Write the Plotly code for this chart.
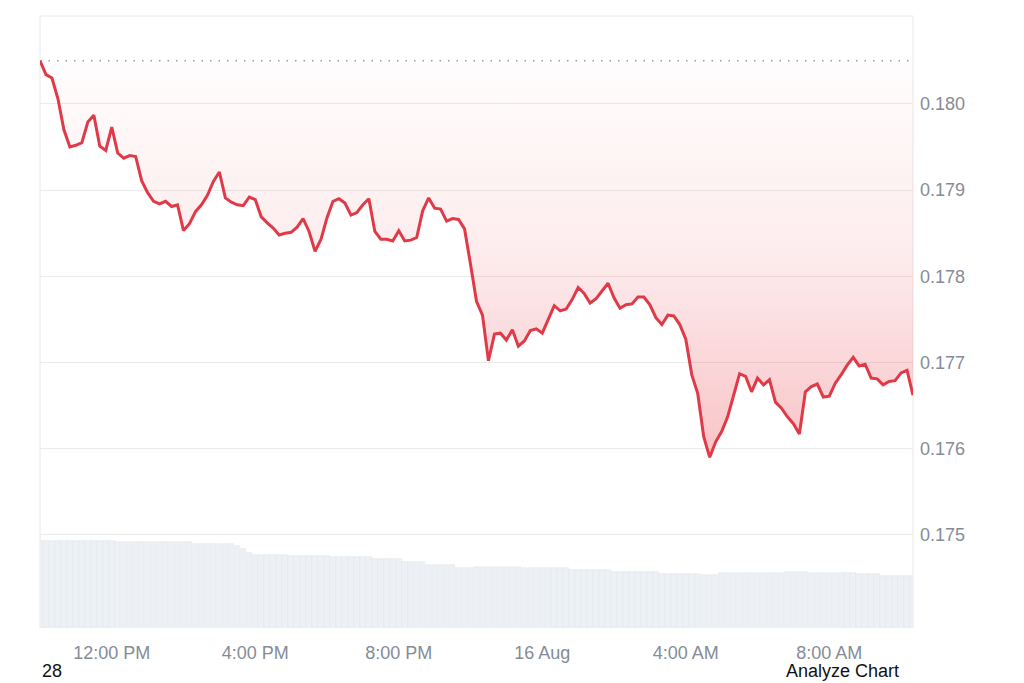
import pandas as pd
import plotly.graph_objects as go

START = "2024-08-15 10:00"
FREQ = "10min"

price = [
    0.18050, 0.18034, 0.18030, 0.18006, 0.17970, 0.17950, 0.17952, 0.17955, 0.17979, 0.17987,
    0.17951, 0.17946, 0.17973, 0.17943, 0.17937, 0.17940, 0.17939, 0.17911, 0.17897, 0.17887,
    0.17884, 0.17887, 0.17881, 0.17883, 0.17853, 0.17861, 0.17875, 0.17883, 0.17894, 0.17910,
    0.17921, 0.17891, 0.17886, 0.17883, 0.17882, 0.17892, 0.17889, 0.17869, 0.17862, 0.17856,
    0.17848, 0.17850, 0.17851, 0.17857, 0.17867, 0.17852, 0.17829, 0.17843, 0.17868, 0.17887,
    0.17890, 0.17885, 0.17871, 0.17874, 0.17883, 0.17890, 0.17852, 0.17843, 0.17843, 0.17841,
    0.17853, 0.17841, 0.17842, 0.17845, 0.17876, 0.17891, 0.17879, 0.17878, 0.17864, 0.17867,
    0.17866, 0.17855, 0.17814, 0.17771, 0.17755, 0.17702, 0.17733, 0.17734, 0.17726, 0.17738,
    0.17719, 0.17725, 0.17737, 0.17739, 0.17734, 0.17749, 0.17766, 0.17760, 0.17762, 0.17773,
    0.17787, 0.17780, 0.17769, 0.17774, 0.17783, 0.17792, 0.17775, 0.17763, 0.17767, 0.17768,
    0.17776, 0.17776, 0.17767, 0.17752, 0.17744, 0.17755, 0.17754, 0.17744, 0.17727, 0.17686,
    0.17664, 0.17614, 0.17590, 0.17608, 0.17620, 0.17637, 0.17662, 0.17687, 0.17684, 0.17666,
    0.17682, 0.17674, 0.17680, 0.17654, 0.17647, 0.17637, 0.17629, 0.17617, 0.17666, 0.17672,
    0.17675, 0.17660, 0.17661, 0.17676, 0.17686, 0.17697, 0.17706, 0.17696, 0.17698, 0.17682,
    0.17681, 0.17674, 0.17678, 0.17679, 0.17688, 0.17691, 0.17662,
]

volume_musd = [
    174, 174, 174, 174, 174, 174, 174, 174, 174, 174, 174, 174, 174,
    172, 172, 172, 172, 172, 172, 172, 172, 172, 172, 172, 172, 172,
    168, 168, 168, 168, 168, 168, 168,
    164, 158, 150,
    146, 146, 146, 146, 146, 146,
    144, 144, 144, 144, 144, 144, 144,
    142, 142, 142, 142, 142, 142, 142,
    138, 138, 138, 138, 138,
    132, 132, 132, 132,
    126, 126, 126, 126, 126,
    120, 120, 120,
    122, 122, 122, 122, 122, 122, 122, 122,
    120, 120, 120, 120, 120, 120, 120, 120,
    116, 116, 116, 116, 116, 116, 116,
    112, 112, 112, 112, 112, 112, 112, 112,
    108, 108, 108, 108, 108, 108, 108,
    106, 106, 106,
    110, 110, 110, 110, 110, 110, 110, 110, 110, 110, 110,
    112, 112, 112, 112,
    110, 110, 110, 110, 110, 110, 110, 110,
    108, 108, 108, 108,
    104, 104, 104, 104, 104, 104,
]

open_price = 0.18050
y_ticks = [0.175, 0.176, 0.177, 0.178, 0.179, 0.180]
x_tickvals = ["2024-08-15 12:00", "2024-08-15 16:00", "2024-08-15 20:00",
              "2024-08-16 00:00", "2024-08-16 04:00", "2024-08-16 08:00"]
x_ticktext = ["12:00 PM", "4:00 PM", "8:00 PM", "16 Aug", "4:00 AM", "8:00 AM"]

times = pd.date_range(START, periods=len(price), freq=FREQ)

RED = "#e03a48"
GRAY_TXT = "#858c97"
FONT = "Liberation Sans, Arial, sans-serif"

fig = go.Figure()

fig.add_trace(go.Bar(
    x=times, y=volume_musd, yaxis="y2",
    marker=dict(color="#edf0f4", line=dict(width=0.6, color="#e3e7ec")),
    width=10 * 60 * 1000 * 0.92,
    hoverinfo="skip", showlegend=False,
))

fig.add_trace(go.Scatter(
    x=times, y=[open_price] * len(price), mode="lines",
    line=dict(color="#9a9a9a", width=1.5, dash="1.5px,7px"),
    hoverinfo="skip", showlegend=False,
))

fig.add_trace(go.Scatter(
    x=times, y=price, mode="lines", fill="tonexty",
    fillgradient=dict(
        type="vertical",
        colorscale=[[0, "rgba(234,57,67,0.30)"], [0.5, "rgba(234,57,67,0.10)"], [1, "rgba(234,57,67,0.01)"]],
        start=min(price), stop=open_price,
    ),
    line=dict(color=RED, width=3),
    showlegend=False,
))

border = "#e8e8e8"
for x0, y0, x1, y1 in [(0, 0, 0, 1), (0, 1, 1, 1), (1, 0, 1, 1)]:
    fig.add_shape(type="line", xref="paper", yref="paper", x0=x0, y0=y0, x1=x1, y1=y1,
                  line=dict(color=border, width=1), layer="below")

fig.update_layout(
    width=1016, height=675,
    margin=dict(l=32, r=111, t=8, b=55),
    paper_bgcolor="white", plot_bgcolor="white",
    font=dict(family=FONT, size=18, color=GRAY_TXT),
    bargap=0,
    xaxis=dict(
        type="date", range=[times[0], times[-1]],
        tickvals=x_tickvals, ticktext=x_ticktext,
        showgrid=False, zeroline=False, showline=False, ticks="",
        ticklabelstandoff=12,
        tickfont=dict(size=18, color=GRAY_TXT),
    ),
    yaxis=dict(
        side="right", range=[0.17392, 0.18102],
        tickvals=y_ticks, ticktext=[f"{v:.3f}" for v in y_ticks],
        showgrid=True, gridcolor="#ebebeb", gridwidth=1, zeroline=False,
        ticks="", ticklabelstandoff=6,
        tickfont=dict(size=18, color=GRAY_TXT),
    ),
    yaxis2=dict(
        overlaying="y", range=[0, 1224], showgrid=False, showticklabels=False,
        zeroline=False, fixedrange=True,
    ),
    annotations=[
        dict(text="28", xref="paper", yref="paper", x=0.0, y=-0.0895, xanchor="left",
             yanchor="bottom", showarrow=False, font=dict(size=18, color="#111111")),
        dict(text="Analyze Chart", xref="paper", yref="paper", x=0.9863, y=-0.0895,
             xanchor="right", yanchor="bottom", showarrow=False,
             font=dict(size=18, color="#111111")),
    ],
)

fig.write_html("out.html")
